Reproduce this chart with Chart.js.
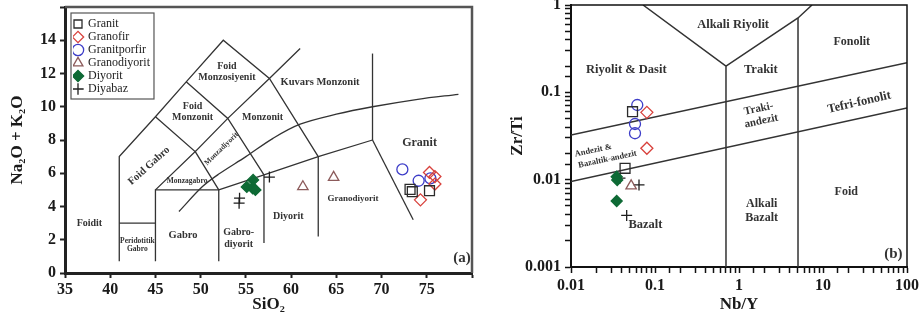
<!DOCTYPE html>
<html>
<head>
<meta charset="utf-8">
<title>TAS ve Nb/Y - Zr/Ti diyagramlari</title>
<script src="https://cdn.jsdelivr.net/npm/chart.js@4.4.1/dist/chart.umd.min.js"></script>
<style>
  html, body { margin: 0; padding: 0; background: #fff; }
  .panel { position: absolute; top: 0; }
  #tas { left: 0; }
  #wf { left: 480px; }
</style>
</head>
<body>
<canvas id="tas" class="panel" width="480" height="321"></canvas>
<canvas id="wf" class="panel" width="441" height="321"></canvas>
<script>
var rockNames = ['Granit', 'Granofir', 'Granitporfir', 'Granodiyorit', 'Diyorit', 'Diyabaz'];

// (a) SiO2 - Na2O+K2O
var tasGranit       = [[73.15, 5.03], [73.4, 4.89], [75.3, 4.95]];
var tasGranofir     = [[75.3, 6.05], [75.9, 5.8], [75.9, 5.35], [74.3, 4.4]];
var tasGranitporfir = [[72.3, 6.23], [74.1, 5.55], [75.4, 5.69]];
var tasGranodiyorit = [[61.3, 5.19], [64.7, 5.75]];
var tasDiyorit      = [[55.8, 5.6], [55.1, 5.18], [55.75, 5.1], [56.05, 5.0]];
var tasDiyabaz      = [[54.3, 4.5], [54.25, 4.2], [57.6, 5.77]];

// (b) Nb/Y - Zr/Ti
var wfGranit       = [[0.054, 0.060], [0.044, 0.0135]];
var wfGranofir     = [[0.080, 0.059], [0.080, 0.0229]];
var wfGranitporfir = [[0.0615, 0.0716], [0.0578, 0.0434], [0.0578, 0.034]];
var wfGranodiyorit = [[0.052, 0.0085]];
var wfDiyorit      = [[0.035, 0.0108], [0.0355, 0.0099], [0.035, 0.0057]];
var wfDiyabaz      = [[0.0383, 0.0104], [0.0645, 0.0087], [0.046, 0.0039]];

// tick labels
var tasXTicks = [35, 40, 45, 50, 55, 60, 65, 70, 75];
var tasYTicks = [0, 2, 4, 6, 8, 10, 12, 14];
var wfXTicks = [0.01, 0.1, 1, 10, 100];
var wfYTicks = [0.001, 0.01, 0.1, 1];

// field boundaries
var tasBounds = [
  [[41, 0.7], [41, 7], [45, 9.4], [48.4, 11.5], [52.5, 14], [57.6, 11.7], [63, 7]],
  [[41, 3], [45, 3]],
  [[45, 0.7], [45, 5], [52, 5], [52, 0.7]],
  [[45, 5], [49.4, 7.3], [52, 5]],
  [[45, 9.4], [49.4, 7.3], [53, 9.3], [57.6, 11.7], [61, 13.5]],
  [[48.4, 11.5], [53, 9.3], [57, 5.9]],
  [[52, 5], [57, 5.9], [63, 7], [69, 8]],
  [[57, 5.9], [57, 1.8]],
  [[63, 7], [63, 2.2]],
  [[69, 8], [69, 13.2]],
  [[69, 8], [73.5, 3.2]]
];
var tasCurve = [[47.6, 3.7], [50.2, 5.2], [52, 5.95], [55, 7.0], [58, 8.1], [61, 8.95], [65, 9.55], [69, 10.0], [74, 10.45], [78.5, 10.75]];

var wfBounds = [
  [[0.072, 1], [0.70, 0.20], [0.70, 0.001]],
  [[0.70, 0.20], [5.04, 0.71], [7.4, 1]],
  [[5.04, 0.71], [5.04, 0.001]],
  [[0.01, 0.0325], [100, 0.218]],
  [[0.01, 0.0095], [100, 0.066]]
];

// field names
var tasLabels = [
  { text: 'Foidit', x: 37.7, y: 3.0, size: 10 },
  { text: 'Peridotitik\nGabro', x: 43, y: 1.68, size: 7.5 },
  { text: 'Gabro', x: 48.05, y: 2.24, size: 10.5 },
  { text: 'Gabro-\ndiyorit', x: 54.2, y: 2.07, size: 10 },
  { text: 'Diyorit', x: 59.7, y: 3.43, size: 10 },
  { text: 'Granodiyorit', x: 66.85, y: 4.49, size: 9 },
  { text: 'Granit', x: 74.2, y: 7.8, size: 12 },
  { text: 'Kuvars Monzonit', x: 63.2, y: 11.48, size: 10.5 },
  { text: 'Monzonit', x: 56.85, y: 9.37, size: 10 },
  { text: 'Foid\nMonzonit', x: 49.1, y: 9.68, size: 10 },
  { text: 'Foid\nMonzosiyenit', x: 52.9, y: 12.1, size: 10 },
  { text: 'Foid Gabro', x: 44.3, y: 6.45, size: 10.5, rot: -42 },
  { text: 'Monzagabro', x: 48.5, y: 5.55, size: 7.5 },
  { text: 'Monzadiyorit', x: 52.3, y: 7.47, size: 7.5, rot: -44 },
  { text: '(a)', x: 78.9, y: 0.9, size: 15 }
];
var wfLabels = [
  { text: 'Alkali Riyolit', x: 0.85, y: 0.59, size: 12.5 },
  { text: 'Fonolit', x: 22, y: 0.38, size: 12 },
  { text: 'Riyolit & Dasit', x: 0.0455, y: 0.18, size: 12.5 },
  { text: 'Trakit', x: 1.82, y: 0.18, size: 12.5 },
  { text: 'Traki-\nandezit', x: 1.78, y: 0.055, size: 11, rot: -12 },
  { text: 'Tefri-fonolit', x: 27, y: 0.0766, size: 12.5, rot: -13 },
  { text: 'Andezit &', x: 0.0184, y: 0.0216, size: 8.5, rot: -12 },
  { text: 'Bazaltik-andezit', x: 0.0272, y: 0.0171, size: 8.5, rot: -12 },
  { text: 'Bazalt', x: 0.077, y: 0.00303, size: 12.5 },
  { text: 'Alkali\nBazalt', x: 1.86, y: 0.0044, size: 12 },
  { text: 'Foid', x: 18.9, y: 0.00716, size: 12 },
  { text: '(b)', x: 68.7, y: 0.0014, size: 15 }
];

var serif = "'Liberation Serif', 'Times New Roman', serif";
var markers = [
  { style: 'rect',     r: 7,   color: '#2b2b2b', fill: 'rgba(255,255,255,0)' },
  { style: 'rectRot',  r: 6,   color: '#d8413c', fill: 'rgba(255,255,255,0)' },
  { style: 'circle',   r: 5.5, color: '#3d3dc8', fill: 'rgba(255,255,255,0)' },
  { style: 'triangle', r: 6,   color: '#8c5b5b', fill: 'rgba(255,255,255,0)' },
  { style: 'rectRot',  r: 5.5, color: '#0e6a35', fill: '#0e6a35' },
  { style: 'cross',    r: 5.5, color: '#1e1e1e', fill: 'rgba(255,255,255,0)' }
];

function toXY(pairs) {
  return pairs.map(function(p) { return { x: p[0], y: p[1] }; });
}

function sampleSets(series) {
  return series.map(function(pts, i) {
    var m = markers[i];
    return {
      label: rockNames[i], data: toXY(pts),
      pointStyle: m.style, pointRadius: m.r, borderColor: m.color,
      backgroundColor: m.fill, borderWidth: 1.3
    };
  });
}

function boundSets(lines, tension, width) {
  return lines.map(function(pts) {
    return {
      label: '', data: toXY(pts), showLine: true, pointRadius: 0,
      borderColor: '#333', backgroundColor: '#333', borderWidth: width, fill: false, tension: tension
    };
  });
}

function isTick(list, v) {
  return list.some(function(t) { return Math.abs(t - v) <= Math.abs(t) * 1e-6 + 1e-12; });
}

// fixed axis box sizes, no extra room for overhanging tick labels
function fixX(h) {
  return function(s) { s.height = h; s.paddingLeft = 0; s.paddingRight = 0; };
}
function fixY(w) {
  return function(s) { s.width = w; s.paddingTop = 0; s.paddingBottom = 0; };
}

// field name text, drawn under the symbols
function fieldLabels(list) {
  return {
    id: 'fieldLabels',
    beforeDatasetsDraw: function(chart) {
      var ctx = chart.ctx, xs = chart.scales.x, ys = chart.scales.y;
      ctx.save();
      ctx.fillStyle = '#333';
      ctx.textAlign = 'center';
      ctx.textBaseline = 'middle';
      list.forEach(function(l) {
        var lines = l.text.split('\n'), lh = l.size * 1.15;
        ctx.save();
        ctx.translate(xs.getPixelForValue(l.x), ys.getPixelForValue(l.y));
        ctx.rotate((l.rot || 0) * Math.PI / 180);
        ctx.font = 'bold ' + l.size + 'px ' + serif;
        lines.forEach(function(t, i) {
          ctx.fillText(t, 0, (i - (lines.length - 1) / 2) * lh);
        });
        ctx.restore();
      });
      ctx.restore();
    }
  };
}

// top and right side of the plot frame
function frame(color, width) {
  return {
    id: 'frame',
    afterDraw: function(chart) {
      var a = chart.chartArea, ctx = chart.ctx;
      ctx.save();
      ctx.strokeStyle = color;
      ctx.lineWidth = width;
      ctx.beginPath();
      ctx.moveTo(a.left, a.top);
      ctx.lineTo(a.right, a.top);
      ctx.lineTo(a.right, a.bottom);
      ctx.stroke();
      ctx.restore();
    }
  };
}

// legend inside the plot, with a box round it
var legendBox = {
  id: 'legendBox',
  afterLayout: function(chart) {
    var lg = chart.legend, a = chart.chartArea;
    if (!lg) return;
    lg.left = a.left + 8;
    lg.top = a.top + 10;
    lg.right = a.right;
    lg.bottom = a.bottom;
  },
  afterDraw: function(chart) {
    var hb = chart.legend.legendHitBoxes, ctx = chart.ctx;
    if (!hb || !hb.length) return;
    var l = Infinity, t = Infinity, r = -Infinity, b = -Infinity;
    hb.forEach(function(h) {
      l = Math.min(l, h.left); t = Math.min(t, h.top);
      r = Math.max(r, h.left + h.width); b = Math.max(b, h.top + h.height);
    });
    ctx.save();
    ctx.strokeStyle = '#555';
    ctx.lineWidth = 1.2;
    ctx.strokeRect(l - 3, t - 5, r - l + 7, b - t + 9);
    ctx.restore();
  }
};

var tickFont = { family: serif, size: 16, weight: 'bold' };
var titleFont = { family: serif, size: 17, weight: 'bold' };

// (a) TAS
var tasChart = new Chart(document.getElementById('tas'), {
  type: 'scatter',
  data: {
    datasets: sampleSets([tasGranit, tasGranofir, tasGranitporfir, tasGranodiyorit, tasDiyorit, tasDiyabaz])
      .concat(boundSets(tasBounds, 0, 1.3))
      .concat(boundSets([tasCurve], 0.35, 1.3))
  },
  options: {
    responsive: false,
    animation: false,
    events: [],
    layout: { autoPadding: false, padding: { left: 5, right: 8, top: 7, bottom: 0 } },
    plugins: {
      legend: {
        position: 'chartArea',
        align: 'start',
        labels: {
          filter: function(item) { return item.datasetIndex < 6; },
          usePointStyle: true, boxWidth: 8, boxHeight: 8, padding: 1,
          color: '#222', font: { family: serif, size: 12 }
        }
      },
      tooltip: { enabled: false }
    },
    scales: {
      x: {
        type: 'linear', min: 35, max: 80,
        afterFit: fixX(48),
        ticks: {
          stepSize: 5, autoSkip: false, maxRotation: 0, padding: 2, color: '#1a1a1a', font: tickFont,
          callback: function(v) { return isTick(tasXTicks, v) ? String(v) : ''; }
        },
        grid: { drawOnChartArea: false, tickLength: 5, tickWidth: 2, tickColor: '#222' },
        border: { color: '#222', width: 3 },
        title: { display: true, text: 'SiO₂', color: '#1a1a1a', font: titleFont, padding: { top: 0, bottom: 6 } }
      },
      y: {
        type: 'linear', min: 0, max: 16,
        afterFit: fixY(60),
        ticks: {
          stepSize: 2, autoSkip: false, padding: 4, color: '#1a1a1a', font: tickFont,
          callback: function(v) { return isTick(tasYTicks, v) ? String(v) : ''; }
        },
        grid: { drawOnChartArea: false, tickLength: 5, tickWidth: 2, tickColor: '#222' },
        border: { color: '#222', width: 3 },
        title: { display: true, text: 'Na₂O + K₂O', color: '#1a1a1a', font: titleFont, padding: { top: 2, bottom: 0 } }
      }
    }
  },
  plugins: [fieldLabels(tasLabels), frame('#555', 2.5), legendBox]
});

// (b) Winchester & Floyd
var wfChart = new Chart(document.getElementById('wf'), {
  type: 'scatter',
  data: {
    datasets: sampleSets([wfGranit, wfGranofir, wfGranitporfir, wfGranodiyorit, wfDiyorit, wfDiyabaz])
      .concat(boundSets(wfBounds, 0, 1.5))
  },
  options: {
    responsive: false,
    animation: false,
    events: [],
    layout: { autoPadding: false, padding: { left: 5, right: 14, top: 5, bottom: 0 } },
    plugins: { legend: { display: false }, tooltip: { enabled: false } },
    scales: {
      x: {
        type: 'logarithmic', min: 0.01, max: 100,
        afterFit: fixX(54),
        ticks: {
          autoSkip: false, maxRotation: 0, padding: 3, color: '#1a1a1a', font: tickFont,
          callback: function(v) { return isTick(wfXTicks, v) ? String(v) : ''; }
        },
        grid: { drawOnChartArea: false, tickLength: 6, tickWidth: 1.5, tickColor: '#111' },
        border: { color: '#111', width: 2 },
        title: { display: true, text: 'Nb/Y', color: '#1a1a1a', font: titleFont, padding: { top: 0, bottom: 6 } }
      },
      y: {
        type: 'logarithmic', min: 0.001, max: 1,
        afterFit: fixY(86),
        ticks: {
          autoSkip: false, padding: 4, color: '#1a1a1a', font: tickFont,
          callback: function(v) { return isTick(wfYTicks, v) ? String(v) : ''; }
        },
        grid: { drawOnChartArea: false, tickLength: 6, tickWidth: 1.5, tickColor: '#111' },
        border: { color: '#111', width: 2 },
        title: { display: true, text: 'Zr/Ti', color: '#1a1a1a', font: titleFont, padding: { top: 22, bottom: 0 } }
      }
    }
  },
  plugins: [fieldLabels(wfLabels), frame('#111', 1.5)]
});
</script>
</body>
</html>
